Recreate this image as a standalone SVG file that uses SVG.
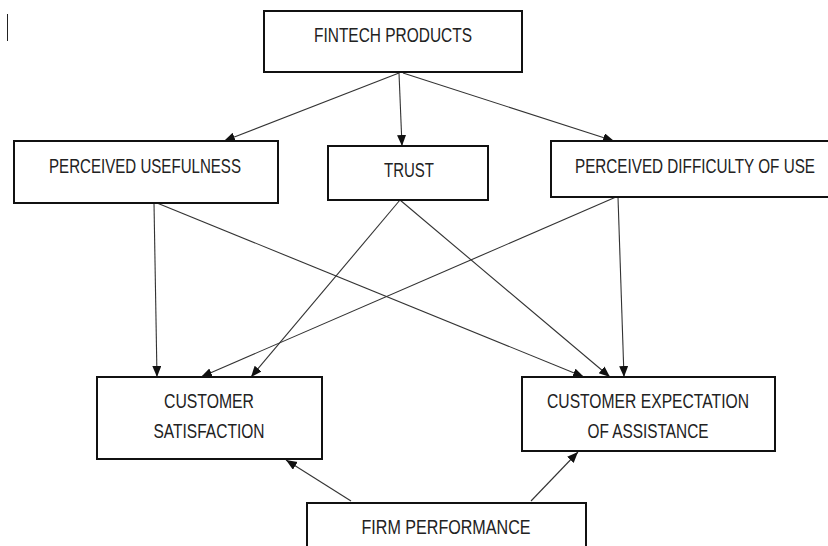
<svg xmlns="http://www.w3.org/2000/svg" width="828" height="546" viewBox="0 0 828 546">
  <style>
    .box { fill: #ffffff; stroke: #111111; stroke-width: 2; }
    .lbl { font-family: "Liberation Sans Narrow", "Liberation Sans", Arial, sans-serif; font-size: 20px; fill: #222222; text-anchor: middle; }
    .edge { stroke: #333333; stroke-width: 1.1; fill: none; marker-end: url(#arrow); }
  </style>
  <defs>
    <marker id="arrow" markerUnits="userSpaceOnUse" markerWidth="12" markerHeight="10" refX="11" refY="4.5" orient="auto">
      <path d="M0,0 L11,4.5 L0,9 z" fill="#111111"/>
    </marker>
  </defs>
  <rect width="828" height="546" fill="#ffffff"/>

  <!-- text cursor mark -->
  <line x1="7.5" y1="14" x2="7.5" y2="41" stroke="#222222" stroke-width="1"/>

  <g id="connectors">
    <line class="edge" x1="399" y1="73" x2="224" y2="141"/>
    <line class="edge" x1="399" y1="73" x2="402" y2="146"/>
    <line class="edge" x1="403" y1="73" x2="614" y2="141"/>
    <line class="edge" x1="154" y1="203" x2="157" y2="377"/>
    <line class="edge" x1="157" y1="203" x2="584" y2="377"/>
    <line class="edge" x1="400" y1="200" x2="251" y2="377"/>
    <line class="edge" x1="400" y1="200" x2="610" y2="377"/>
    <line class="edge" x1="616" y1="197" x2="201" y2="377"/>
    <line class="edge" x1="618" y1="197" x2="624" y2="377"/>
    <line class="edge" x1="351" y1="501" x2="286" y2="460"/>
    <line class="edge" x1="531" y1="501" x2="578" y2="452"/>
  </g>

  <g id="fintech-products">
    <rect class="box" x="264" y="11" width="258" height="61"/>
    <text class="lbl" x="393" y="42" textLength="158" lengthAdjust="spacingAndGlyphs">FINTECH PRODUCTS</text>
  </g>
  <g id="perceived-usefulness">
    <rect class="box" x="14" y="141" width="264" height="62"/>
    <text class="lbl" x="145" y="173" textLength="192" lengthAdjust="spacingAndGlyphs">PERCEIVED USEFULNESS</text>
  </g>
  <g id="trust">
    <rect class="box" x="328" y="146" width="160" height="54"/>
    <text class="lbl" x="409" y="177" textLength="50" lengthAdjust="spacingAndGlyphs">TRUST</text>
  </g>
  <g id="perceived-difficulty">
    <rect class="box" x="551" y="141" width="282" height="56"/>
    <text class="lbl" x="695" y="173" textLength="240" lengthAdjust="spacingAndGlyphs">PERCEIVED DIFFICULTY OF USE</text>
  </g>
  <g id="customer-satisfaction">
    <rect class="box" x="97" y="377" width="225" height="82"/>
    <text class="lbl" x="209" y="408" textLength="90" lengthAdjust="spacingAndGlyphs">CUSTOMER</text>
    <text class="lbl" x="209" y="438" textLength="111" lengthAdjust="spacingAndGlyphs">SATISFACTION</text>
  </g>
  <g id="customer-expectation">
    <rect class="box" x="522" y="377" width="253" height="74"/>
    <text class="lbl" x="648" y="408" textLength="202" lengthAdjust="spacingAndGlyphs">CUSTOMER EXPECTATION</text>
    <text class="lbl" x="648" y="438" textLength="121" lengthAdjust="spacingAndGlyphs">OF ASSISTANCE</text>
  </g>
  <g id="firm-performance">
    <rect class="box" x="307" y="503" width="279" height="60"/>
    <text class="lbl" x="446" y="534" textLength="169" lengthAdjust="spacingAndGlyphs">FIRM PERFORMANCE</text>
  </g>
</svg>
